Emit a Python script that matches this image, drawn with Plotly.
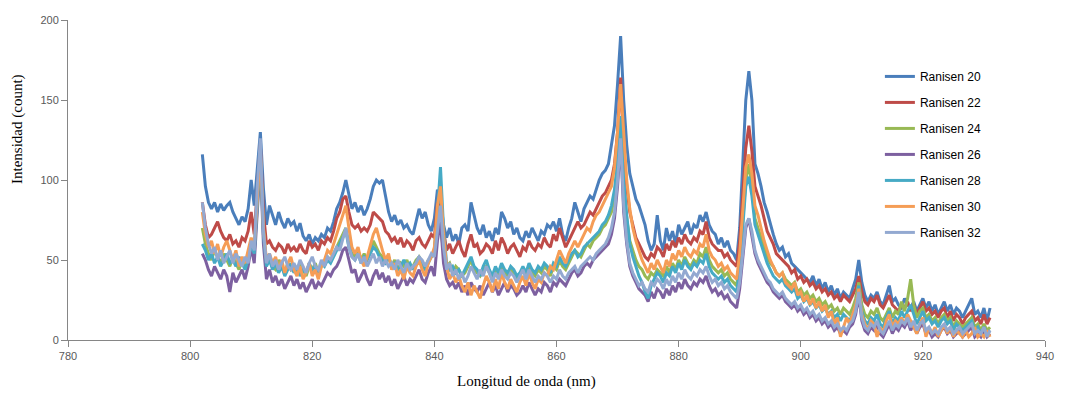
import plotly.graph_objects as go

# Wavelength sampling grid (nm): 802.0 .. 931.0 every 0.5 nm
start_nm = 802.0
step_nm = 0.5
n_points = 259
wavelength = [start_nm + step_nm * i for i in range(n_points)]

series_names = ["Ranisen 20", "Ranisen 22", "Ranisen 24", "Ranisen 26",
                "Ranisen 28", "Ranisen 30", "Ranisen 32"]
series_colors = ["#4A7EBB", "#BE4B48", "#98B954", "#7D60A0",
                 "#46AAC5", "#F59D56", "#93A9D1"]

ranisen_20 = [
    116, 96, 86, 82, 86, 80, 85, 81, 84, 86,
    80, 76, 72, 77, 74, 82, 100, 84, 108, 130,
    95, 72, 84, 78, 72, 80, 74, 70, 76, 72,
    74, 68, 73, 65, 62, 66, 60, 64, 62, 66,
    64, 70, 68, 74, 82, 86, 92, 100, 90, 82,
    86, 80, 84, 78, 82, 88, 96, 100, 98, 100,
    90, 80, 74, 78, 72, 75, 70, 72, 68, 66,
    74, 82, 76, 80, 72, 68, 76, 94, 88, 72,
    64, 70, 62, 66, 60, 70, 72, 68, 86, 78,
    70, 66, 72, 64, 68, 62, 70, 66, 80, 76,
    70, 74, 66, 70, 64, 62, 68, 64, 70, 66,
    62, 68, 66, 72, 70, 74, 68, 76, 66, 62,
    70, 76, 86, 80, 74, 82, 86, 90, 88, 94,
    100, 104, 106, 110, 122, 134, 160, 190, 150, 122,
    104, 96, 88, 84, 78, 72, 62, 56, 60, 78,
    62, 56, 70, 62, 68, 60, 72, 66, 70, 74,
    66, 72, 70, 78, 74, 80, 72, 68, 66, 60,
    64, 58, 62, 56, 54, 50, 70, 110, 150, 168,
    150, 110, 104, 96, 86, 80, 72, 66, 60, 56,
    58, 52, 54, 48, 46, 44, 42, 40, 38, 36,
    40, 34, 38, 32, 36, 30, 34, 28, 32, 26,
    30, 28, 26, 32, 38, 50, 36, 28, 24, 28,
    26, 30, 24, 22, 28, 34, 24, 26, 22, 20,
    26, 22, 20, 24, 18, 22, 26, 20, 24, 18,
    22, 16, 20, 24, 18, 22, 16, 20, 18, 14,
    18, 22, 26, 16, 18, 14, 20, 12, 20,
]

ranisen_22 = [
    86, 72, 64, 66, 70, 74, 68, 64, 62, 66,
    60, 62, 58, 64, 62, 68, 80, 66, 94, 122,
    80, 60, 62, 58, 56, 60, 58, 54, 60, 56,
    58, 55, 60, 56, 54, 62, 58, 60, 56, 62,
    60, 64, 62, 68, 76, 80, 88, 90, 80, 72,
    70, 72, 68, 70, 68, 72, 80, 78, 76, 74,
    68, 66, 62, 64, 60, 64, 58, 62, 60, 56,
    62, 64, 60, 58, 62, 66, 64, 86, 82, 70,
    56, 60, 54, 58, 62, 56, 52, 60, 66, 58,
    60, 54, 56, 60, 58, 54, 62, 56, 64, 60,
    54, 58, 60, 56, 52, 58, 56, 62, 58, 56,
    60, 58, 64, 60, 58, 66, 62, 70, 64, 58,
    62, 66, 70, 74, 70, 72, 76, 80, 78, 82,
    86, 90, 92, 96, 100, 110, 130, 164, 120, 96,
    80, 72, 64, 60, 56, 52, 50, 54, 52, 58,
    56, 52, 60, 56, 62, 58, 64, 60, 66, 62,
    60, 64, 62, 68, 66, 74, 64, 60, 58, 56,
    56, 52, 54, 50, 48, 46, 62, 92, 120, 134,
    118, 96, 90, 84, 76, 68, 64, 60, 54, 52,
    50, 48, 46, 42, 44, 38, 40, 36, 38, 34,
    36, 32, 34, 30, 32, 28, 30, 26, 28, 24,
    28, 26, 24, 28, 32, 40, 30, 24, 22, 26,
    24, 28, 22, 20, 24, 28, 22, 20, 18, 22,
    20, 24, 18, 22, 16, 20, 24, 18, 20, 16,
    18, 14, 18, 20, 14, 18, 12, 16, 14, 10,
    14, 16, 18, 12, 14, 10, 16, 10, 14,
]

ranisen_24 = [
    70, 60, 54, 50, 56, 52, 48, 54, 50, 46,
    52, 48, 44, 50, 46, 52, 62, 56, 86, 116,
    70, 48, 52, 46, 44, 50, 46, 42, 48, 44,
    46, 42, 48, 44, 40, 46, 44, 48, 42, 46,
    48, 52, 50, 54, 58, 62, 66, 70, 60, 54,
    52, 56, 50, 54, 50, 56, 62, 58, 54, 52,
    50, 52, 46, 50, 44, 48, 46, 50, 44, 46,
    50, 52, 48, 46, 50, 52, 56, 74, 70, 56,
    46, 48, 42, 46, 44, 40, 42, 46, 50, 44,
    42, 40, 44, 46, 42, 38, 44, 40, 46, 42,
    40, 44, 42, 38, 40, 44, 40, 46, 42, 40,
    44, 42, 46, 44, 40, 46, 44, 50, 46, 44,
    48, 52, 56, 54, 52, 56, 60, 58, 62, 64,
    66, 70, 72, 76, 80, 90, 108, 130, 96, 76,
    62, 56, 50, 46, 44, 40, 38, 42, 40, 44,
    42, 40, 46, 42, 48, 44, 50, 46, 52, 48,
    46, 50, 48, 54, 52, 58, 50, 46, 44, 42,
    44, 40, 42, 38, 36, 34, 48, 76, 100, 110,
    96, 76, 70, 64, 58, 52, 48, 46, 42, 40,
    42, 38, 36, 34, 36, 30, 32, 28, 30, 26,
    28, 24, 26, 22, 24, 20, 22, 18, 20, 16,
    20, 18, 16, 20, 26, 36, 22, 16, 14, 18,
    16, 20, 14, 12, 16, 20, 14, 18, 16, 24,
    18, 26, 38, 22, 14, 18, 20, 14, 16, 12,
    14, 10, 14, 16, 12, 14, 8, 12, 10, 8,
    10, 12, 14, 8, 10, 6, 10, 6, 8,
]

ranisen_26 = [
    54, 50, 44, 40, 46, 42, 38, 44, 40, 30,
    42, 36, 40, 44, 38, 46, 58, 48, 80, 112,
    60, 38, 44, 36, 40, 34, 38, 32, 36, 40,
    34, 38, 32, 36, 30, 34, 38, 32, 36, 34,
    38, 42, 40, 44, 46, 50, 56, 58, 50, 42,
    44, 36, 40, 44, 38, 34, 40, 44, 38, 42,
    36, 40, 34, 38, 32, 36, 40, 34, 38, 36,
    40, 44, 38, 36, 42, 46, 40, 62, 74, 48,
    38, 34, 36, 32, 36, 30, 34, 28, 36, 32,
    30, 34, 28, 32, 36, 30, 34, 28, 32, 36,
    30, 34, 32, 28, 30, 34, 30, 36, 32, 28,
    32, 30, 36, 34, 30, 36, 34, 38, 36, 34,
    38, 42, 44, 40, 42, 46, 48, 46, 50, 52,
    54, 56, 58, 60, 66, 76, 96, 124, 80, 60,
    46, 40, 36, 32, 30, 28, 24, 30, 26, 32,
    30, 26, 32, 28, 34, 30, 36, 32, 38, 34,
    32, 36, 34, 38, 36, 40, 34, 30, 32, 28,
    30, 26, 28, 24, 22, 20, 32, 52, 70, 76,
    66, 54, 48, 44, 40, 36, 34, 30, 28, 26,
    28, 24, 22, 20, 22, 18, 20, 16, 18, 14,
    16, 12, 14, 10, 12, 8, 10, 6, 8, 4,
    6, 4, 8, 10, 16, 28, 12, 6, 4, 8,
    6, 10, 4, 2, 6, 10, 4, 8, 6, 10,
    8, 12, 6, 10, 4, 8, 10, 4, 6, 2,
    4, 2, 6, 8, 4, 6, 2, 4, 6, 2,
    4, 6, 8, 2, 4, 2, 6, 2, 4,
]

ranisen_28 = [
    60, 56, 50, 54, 48, 52, 46, 50, 54, 48,
    50, 46, 52, 48, 44, 50, 60, 54, 84, 114,
    66, 46, 50, 44, 48, 42, 46, 40, 44, 48,
    42, 46, 40, 44, 42, 48, 44, 46, 42, 48,
    46, 50, 48, 52, 56, 60, 64, 68, 58, 52,
    50, 54, 48, 52, 50, 54, 58, 56, 52, 50,
    48, 52, 46, 48, 44, 46, 50, 46, 48, 44,
    48, 52, 46, 44, 48, 52, 56, 80, 108, 70,
    48, 44, 46, 42, 44, 40, 44, 48, 52, 46,
    44, 40, 46, 50, 44, 40, 46, 42, 48, 44,
    42, 46, 44, 40, 42, 46, 42, 48, 44, 42,
    46, 44, 48, 46, 42, 48, 46, 52, 48, 46,
    50, 54, 56, 52, 54, 58, 60, 62, 64, 66,
    68, 72, 74, 78, 84, 94, 112, 140, 100, 78,
    60, 52, 46, 40, 36, 30, 26, 34, 38, 42,
    40, 36, 42, 40, 46, 42, 48, 44, 50, 46,
    44, 48, 46, 50, 48, 54, 46, 42, 40, 38,
    40, 36, 38, 34, 32, 30, 44, 72, 96, 102,
    90, 72, 66, 60, 54, 48, 44, 40, 38, 36,
    38, 34, 32, 30, 32, 26, 28, 24, 26, 22,
    24, 20, 22, 18, 20, 16, 18, 14, 16, 12,
    16, 14, 12, 16, 22, 34, 18, 12, 10, 14,
    12, 16, 10, 8, 14, 18, 10, 14, 12, 18,
    14, 18, 22, 16, 10, 14, 18, 12, 14, 10,
    12, 8, 12, 14, 10, 12, 6, 10, 8, 6,
    8, 10, 12, 6, 8, 4, 8, 4, 6,
]

ranisen_30 = [
    80, 66, 58, 62, 54, 60, 52, 58, 62, 56,
    50, 56, 46, 52, 48, 56, 64, 58, 90, 118,
    70, 50, 54, 48, 52, 44, 50, 42, 48, 52,
    44, 40, 46, 38, 42, 48, 40, 44, 38, 46,
    50, 56, 54, 60, 66, 72, 78, 84, 70, 58,
    54, 58, 50, 46, 52, 60, 66, 70, 62, 56,
    50, 54, 44, 48, 40, 44, 38, 46, 42, 40,
    46, 50, 44, 40, 48, 52, 58, 84, 96, 66,
    46, 38, 42, 36, 40, 34, 30, 36, 28, 34,
    30, 26, 34, 40, 36, 30, 38, 32, 42, 36,
    32, 38, 34, 30, 36, 40, 34, 42, 36, 32,
    38, 36, 42, 40, 46, 44, 50, 56, 52, 48,
    54, 58, 62, 58, 62, 66, 70, 68, 74, 78,
    80, 84, 88, 92, 96, 108, 130, 160, 130, 100,
    82, 70, 62, 56, 50, 46, 42, 48, 44, 50,
    46, 42, 50, 46, 54, 50, 56, 52, 58, 54,
    52, 56, 54, 60, 58, 66, 56, 52, 50, 46,
    48, 44, 46, 42, 40, 38, 54, 84, 108, 116,
    104, 84, 78, 70, 62, 56, 50, 46, 42, 40,
    42, 36, 34, 32, 36, 28, 30, 24, 28, 22,
    26, 20, 24, 18, 22, 14, 18, 10, 14, 2,
    8, 14, 10, 16, 22, 32, 16, 10, 6, 12,
    10, 2, 8, 4, 12, 16, 8, 12, 10, 14,
    10, 16, 12, 8, 4, 10, 14, 2, 8, 4,
    8, 2, 6, 10, 4, 8, 2, 6, 4, 2,
    6, 2, 4, 8, 2, 4, 2, 6, 2,
]

ranisen_32 = [
    86, 70, 60, 54, 58, 50, 56, 48, 52, 56,
    48, 54, 50, 46, 52, 48, 62, 56, 96, 126,
    68, 48, 54, 46, 50, 44, 48, 52, 46, 44,
    48, 44, 50, 46, 42, 48, 52, 46, 44, 50,
    46, 52, 50, 54, 58, 56, 64, 70, 58, 52,
    50, 54, 48, 52, 46, 50, 54, 48, 52, 46,
    50, 46, 48, 44, 50, 46, 42, 48, 44, 46,
    48, 52, 50, 46, 50, 54, 52, 68, 84, 58,
    44, 48, 40, 44, 38, 42, 36, 40, 46, 42,
    38, 44, 40, 46, 42, 36, 42, 38, 44, 40,
    38, 42, 40, 36, 40, 44, 38, 44, 40, 36,
    40, 38, 42, 40, 36, 40, 38, 44, 40, 38,
    42, 44, 46, 42, 46, 48, 50, 52, 50, 54,
    56, 58, 60, 64, 70, 80, 100, 126, 84, 62,
    48, 42, 38, 34, 36, 32, 30, 36, 34, 38,
    36, 32, 38, 34, 40, 36, 42, 38, 44, 40,
    38, 42, 40, 44, 42, 46, 40, 36, 38, 34,
    36, 32, 34, 30, 28, 26, 36, 56, 72, 76,
    68, 56, 50, 46, 42, 38, 36, 32, 30, 28,
    30, 26, 24, 22, 24, 20, 22, 18, 20, 16,
    18, 14, 16, 12, 14, 10, 12, 8, 10, 6,
    8, 6, 10, 12, 18, 30, 14, 8, 6, 10,
    8, 12, 6, 4, 8, 12, 6, 10, 8, 12,
    10, 14, 8, 12, 6, 10, 12, 6, 8, 4,
    6, 4, 8, 10, 6, 8, 4, 6, 8, 4,
    6, 8, 10, 4, 6, 4, 8, 2, 6,
]

x_ticks = [780, 800, 820, 840, 860, 880, 900, 920, 940]
y_ticks = [0, 50, 100, 150, 200]

all_series = [ranisen_20, ranisen_22, ranisen_24, ranisen_26,
              ranisen_28, ranisen_30, ranisen_32]

fig = go.Figure()
for name, color, vals in zip(series_names, series_colors, all_series):
    fig.add_trace(go.Scatter(
        x=wavelength, y=vals, mode="lines", name=name,
        legendgroup=name,
        line=dict(color=color, width=3),
    ))

axis_font = dict(family="Liberation Sans, Arial, sans-serif", size=11, color="#595959")
fig.update_layout(
    width=1066, height=394,
    margin=dict(l=68, r=17, t=20, b=54),
    paper_bgcolor="white", plot_bgcolor="white",
    showlegend=True,
    legend=dict(
        x=0.831, y=0.869, xanchor="left", yanchor="top",
        font=dict(family="Liberation Sans, Arial, sans-serif", size=12, color="#000000"),
        tracegroupgap=7, bgcolor="rgba(0,0,0,0)",
    ),
    xaxis=dict(
        range=[780, 940], tickvals=x_ticks, showgrid=False, zeroline=False,
        showline=True, linecolor="#868686", linewidth=1,
        ticks="outside", ticklen=6, tickcolor="#868686",
        tickfont=axis_font,
    ),
    yaxis=dict(
        range=[0, 200], tickvals=y_ticks, showgrid=False, zeroline=False,
        showline=True, linecolor="#868686", linewidth=1,
        ticks="outside", ticklen=6, tickcolor="#868686",
        tickfont=axis_font,
    ),
    annotations=[
        dict(text="Longitud de onda (nm)", xref="paper", yref="paper",
             x=0.469, y=-0.131, xanchor="center", yanchor="middle",
             showarrow=False,
             font=dict(family="Liberation Serif, Times New Roman, serif", size=15, color="#000000")),
        dict(text="Intensidad (count)", xref="paper", yref="paper",
             x=-0.051, y=0.66, xanchor="center", yanchor="middle",
             textangle=-90, showarrow=False,
             font=dict(family="Liberation Serif, Times New Roman, serif", size=15, color="#000000")),
    ],
)

fig.write_html("out.html",
               config={"displayModeBar": False},
               post_script="document.body.style.margin='0';document.body.style.overflow='hidden';")
